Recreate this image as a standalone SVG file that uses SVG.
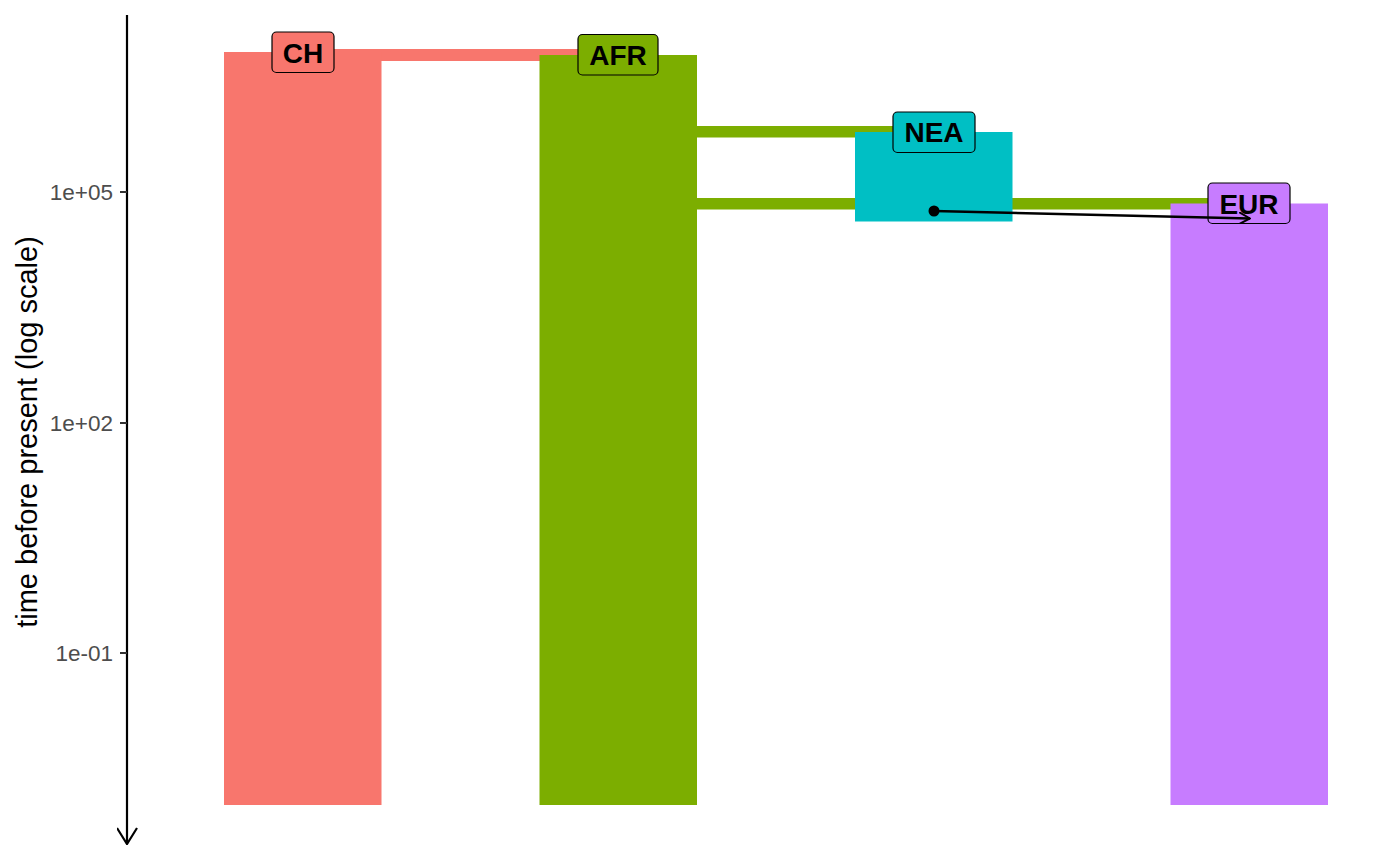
<svg xmlns="http://www.w3.org/2000/svg" width="1400" height="866" viewBox="0 0 1400 866">
<style>
.tick{font-family:"Liberation Sans",Arial,sans-serif;font-size:22.5px;fill:#4D4D4D;text-anchor:end}
.ylab{font-family:"Liberation Sans",Arial,sans-serif;font-size:29px;fill:#000;text-anchor:middle}
.lab{font-family:"Liberation Sans",Arial,sans-serif;font-size:28px;font-weight:bold;fill:#000;text-anchor:middle}
.lbox{stroke:#000;stroke-width:1.2}
</style>
<defs>
<marker id="ah" viewBox="0 0 12 12" refX="11" refY="6" markerWidth="12" markerHeight="12" markerUnits="userSpaceOnUse" orient="auto">
<path d="M0,0 L11,6 L0,12" fill="none" stroke="#000" stroke-width="2"/>
</marker>
<marker id="ax" viewBox="0 0 22 18" refX="10" refY="17" markerWidth="22" markerHeight="18" markerUnits="userSpaceOnUse" orient="0">
<path d="M0,1 L10,17 L20,1" fill="none" stroke="#000" stroke-width="2.2"/>
</marker>
</defs>
<rect width="1400" height="866" fill="#fff"/>
<g id="axis">
<line x1="127" y1="15" x2="127" y2="844" stroke="#000" stroke-width="2.2" marker-end="url(#ax)"/>
<line x1="120" y1="192" x2="127" y2="192" stroke="#333" stroke-width="2"/>
<line x1="120" y1="423" x2="127" y2="423" stroke="#333" stroke-width="2"/>
<line x1="120" y1="653" x2="127" y2="653" stroke="#333" stroke-width="2"/>
<text class="tick" x="113" y="199.5">1e+05</text>
<text class="tick" x="113" y="430.5">1e+02</text>
<text class="tick" x="113" y="660.5">1e-01</text>
<text class="ylab" transform="translate(37,432) rotate(-90)">time before present (log scale)</text>
</g>
<g id="connectors">
<rect x="302" y="49" width="316" height="12" fill="#F8766D"/>
<rect x="618" y="126" width="316" height="11.5" fill="#7CAE00"/>
<rect x="618" y="198" width="631" height="11.5" fill="#7CAE00"/>
</g>
<g id="CH">
<rect x="224" y="52" width="157.5" height="753" fill="#F8766D"/>
</g>
<g id="AFR">
<rect x="539.5" y="55" width="157.5" height="750" fill="#7CAE00"/>
</g>
<g id="NEA">
<rect x="855" y="132" width="157.5" height="89.5" fill="#00BFC4"/>
</g>
<g id="EUR">
<rect x="1170.5" y="203.5" width="157.5" height="601.5" fill="#C77CFF"/>
</g>
<g id="labels">
<rect class="lbox" x="272" y="32" width="62" height="40.5" rx="4.5" fill="#F8766D"/>
<text class="lab" x="303" y="62.5">CH</text>
<rect class="lbox" x="578" y="34.5" width="80" height="40.5" rx="4.5" fill="#7CAE00"/>
<text class="lab" x="618" y="65">AFR</text>
<rect class="lbox" x="893" y="112" width="82" height="40.5" rx="4.5" fill="#00BFC4"/>
<text class="lab" x="934" y="142">NEA</text>
<rect class="lbox" x="1208" y="183" width="82" height="40.5" rx="4.5" fill="#C77CFF"/>
<text class="lab" x="1249" y="213.5">EUR</text>
</g>
<g id="gene-flow">
<circle cx="934" cy="211" r="5.5" fill="#000"/>
<line x1="934" y1="211" x2="1250" y2="218.5" stroke="#000" stroke-width="2.5" marker-end="url(#ah)"/>
</g>
</svg>
